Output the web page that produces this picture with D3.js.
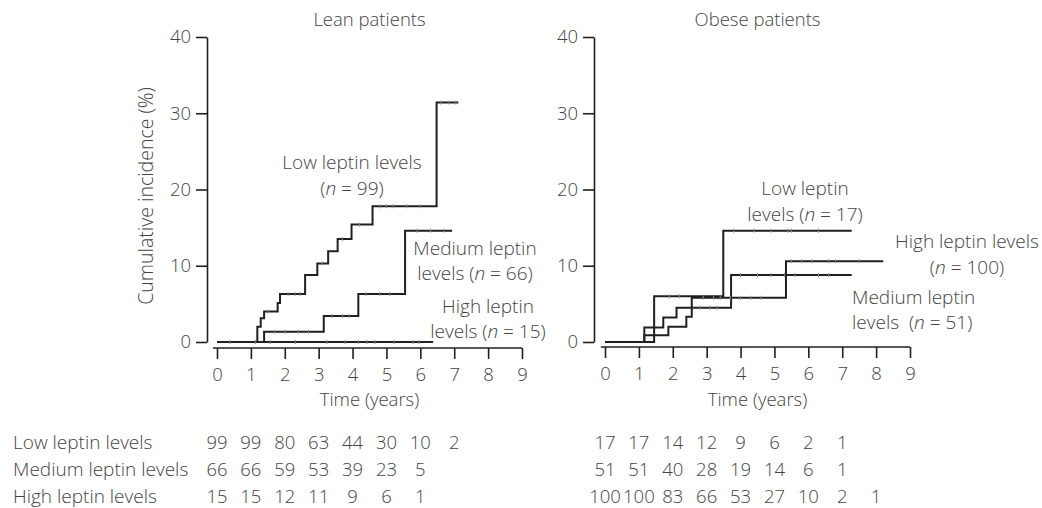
<!DOCTYPE html>
<html>
<head>
<meta charset="utf-8">
<script src="https://cdn.jsdelivr.net/npm/d3@7"></script>
<style>
  body { margin: 0; background: #fff; }
  text { font-family: "Open Sans", "Noto Sans", sans-serif; font-weight: 300; fill: #444; }
</style>
</head>
<body>
<script>
// step curves: [time (years), cumulative incidence (%)]
const leanLow = [[0, 0], [1.19, 2.0], [1.29, 3.1], [1.39, 4.0], [1.79, 5.1], [1.86, 6.3], [2.6, 8.8], [2.96, 10.3], [3.28, 11.9], [3.56, 13.5], [3.97, 15.4], [4.59, 17.8], [6.48, 31.4], [7.12, 31.4]]
const leanMedium = [[0, 0], [1.39, 1.35], [3.15, 3.4], [4.17, 6.3], [5.55, 14.6], [6.94, 14.6]]
const leanHigh = [[0, 0], [6.38, 0]]
const obeseLow = [[0, 0], [1.45, 6.0], [3.49, 14.6], [7.28, 14.6]]
const obeseMedium = [[0, 0], [1.16, 1.9], [1.72, 3.2], [2.11, 4.5], [3.72, 8.8], [7.28, 8.8]]
const obeseHigh = [[0, 0], [1.16, 0.9], [1.87, 2.0], [2.4, 3.3], [2.56, 5.8], [5.34, 10.6], [8.21, 10.6]]

// censoring times
const leanLowCens = [1.5, 2.1, 2.3, 2.45, 3.1, 3.7, 4.2, 4.8, 5.0, 5.2, 5.6, 6.0, 6.6, 6.85, 7.05]
const leanMediumCens = [1.7, 2.0, 2.4, 2.7, 3.4, 3.7, 3.9, 4.4, 4.8, 5.1, 5.9, 6.3, 6.7]
const leanHighCens = [0.39, 1.13, 1.57, 2.31, 3.24, 3.78, 4.17, 4.42, 4.66, 5.22, 5.79, 5.96]
const obeseLowCens = [1.9, 2.2, 3.8, 4.4, 4.9, 5.4, 5.5, 6.3]
const obeseMediumCens = [2.6, 2.8, 3.1, 3.3, 4.0, 4.5, 4.9, 5.3, 5.6, 6.3, 6.6]
const obeseHighCens = [2.9, 3.2, 3.4, 3.7, 4.0, 4.3, 4.6, 5.5, 5.8, 6.1, 6.6, 6.8, 7.5]

const yTicks = [0, 10, 20, 30, 40]
const xTicks = [0, 1, 2, 3, 4, 5, 6, 7, 8, 9]

// numbers at risk
const riskLabels = ['Low leptin levels', 'Medium leptin levels', 'High leptin levels']
const leanRisk = [[99, 99, 80, 63, 44, 30, 10, 2], [66, 66, 59, 53, 39, 23, 5], [15, 15, 12, 11, 9, 6, 1]]
const obeseRisk = [[17, 17, 14, 12, 9, 6, 2, 1], [51, 51, 40, 28, 19, 14, 6, 1], [100, 100, 83, 66, 53, 27, 10, 2, 1]]

const width = 1042
const height = 508
const fs = 18.5
const svg = d3.select('body').append('svg').attr('width', width).attr('height', height)

const y = d3.scaleLinear().domain([0, 40]).range([342, 37])

const panels = [
  {
    title: 'Lean patients', yAxisX: 207, xAxisY: 348, x0: 217,
    curves: [[leanLow, leanLowCens], [leanMedium, leanMediumCens], [leanHigh, leanHighCens]],
    risk: leanRisk,
    labels: [
      { x: 352, y: 169, anchor: 'middle', parts: [['Low leptin levels']] },
      { x: 352, y: 195, anchor: 'middle', parts: [['('], ['n', 1], [' = 99)']] },
      { x: 475, y: 255, anchor: 'middle', parts: [['Medium leptin']] },
      { x: 475, y: 280, anchor: 'middle', parts: [['levels ('], ['n', 1], [' = 66)']] },
      { x: 488, y: 313, anchor: 'middle', parts: [['High leptin']] },
      { x: 488, y: 338, anchor: 'middle', parts: [['levels ('], ['n', 1], [' = 15)']] }
    ]
  },
  {
    title: 'Obese patients', yAxisX: 594, xAxisY: 347, x0: 605,
    curves: [[obeseLow, obeseLowCens], [obeseMedium, obeseMediumCens], [obeseHigh, obeseHighCens]],
    risk: obeseRisk,
    labels: [
      { x: 805, y: 195, anchor: 'middle', parts: [['Low leptin']] },
      { x: 805, y: 221, anchor: 'middle', parts: [['levels ('], ['n', 1], [' = 17)']] },
      { x: 967, y: 248, anchor: 'middle', parts: [['High leptin levels']] },
      { x: 967, y: 274, anchor: 'middle', parts: [['('], ['n', 1], [' = 100)']] },
      { x: 852, y: 304, anchor: 'start', parts: [['Medium leptin']] },
      { x: 852, y: 329, anchor: 'start', parts: [['levels  ('], ['n', 1], [' = 51)']] }
    ]
  }
]

const stepValue = (steps, t) => {
  let v = 0
  steps.forEach((s) => { if (s[0] <= t) v = s[1] })
  return v
}

const line = d3.line().curve(d3.curveStepAfter)

panels.forEach((p) => {
  const x = d3.scaleLinear().domain([0, 9]).range([p.x0, p.x0 + 305])
  const g = svg.append('g')

  // title
  g.append('text')
    .attr('x', x(4.5))
    .attr('y', 26)
    .attr('text-anchor', 'middle')
    .attr('font-size', fs)
    .text(p.title)

  // y axis
  const yAxis = g.append('g')
    .attr('transform', `translate(${p.yAxisX},0)`)
    .call(d3.axisLeft(y).tickValues(yTicks).tickSize(11).tickSizeOuter(0).tickPadding(5))
  yAxis.selectAll('path, line').attr('stroke', '#231f20').attr('stroke-width', 1.6)
  yAxis.selectAll('text').attr('font-size', fs).attr('fill', '#444')
    .style('font-family', '"Open Sans", sans-serif').style('font-weight', 300)

  // x axis
  const xAxis = g.append('g')
    .attr('transform', `translate(0,${p.xAxisY})`)
    .call(d3.axisBottom(x).tickValues(xTicks).tickSize(11).tickSizeOuter(0).tickPadding(9))
  xAxis.select('.domain').remove()
  xAxis.append('line')
    .attr('x1', x(-0.12)).attr('x2', x(9))
    .attr('stroke', '#231f20').attr('stroke-width', 1.6)
  xAxis.selectAll('line').attr('stroke', '#231f20').attr('stroke-width', 1.6)
  xAxis.selectAll('text').attr('font-size', fs).attr('fill', '#444')
    .style('font-family', '"Open Sans", sans-serif').style('font-weight', 300)

  g.append('text')
    .attr('x', x(4.5))
    .attr('y', 406)
    .attr('text-anchor', 'middle')
    .attr('font-size', fs)
    .text('Time (years)')

  if (p.yAxisX < 300) {
    g.append('text')
      .attr('transform', `translate(153,196) rotate(-90)`)
      .attr('text-anchor', 'middle')
      .attr('font-size', 19.5)
      .text('Cumulative incidence (%)')
  }

  // curves
  p.curves.forEach(([steps, cens]) => {
    const pts = steps.map((d) => [x(d[0]), y(d[1])])
    g.append('path')
      .attr('d', line(pts))
      .attr('fill', 'none')
      .attr('stroke', '#231f20')
      .attr('stroke-width', 2)
    g.selectAll(null)
      .data(cens)
      .enter()
      .append('line')
      .attr('x1', (t) => x(t))
      .attr('x2', (t) => x(t))
      .attr('y1', (t) => y(stepValue(steps, t)) - 2)
      .attr('y2', (t) => y(stepValue(steps, t)) + 2)
      .attr('stroke', '#888')
      .attr('stroke-width', 1)
  })

  // curve labels
  p.labels.forEach((l) => {
    const t = g.append('text')
      .attr('x', l.x)
      .attr('y', l.y)
      .attr('text-anchor', l.anchor)
      .attr('font-size', 19)
      .attr('xml:space', 'preserve')
      .style('white-space', 'pre')
    l.parts.forEach((part) => {
      t.append('tspan').attr('font-style', part[1] ? 'italic' : 'normal').text(part[0])
    })
  })

  // numbers at risk
  p.risk.forEach((row, i) => {
    g.selectAll(null)
      .data(row)
      .enter()
      .append('text')
      .attr('x', (d, j) => x(j))
      .attr('y', 449 + i * 27)
      .attr('text-anchor', 'middle')
      .attr('font-size', fs)
      .text((d) => d)
  })
})

riskLabels.forEach((lab, i) => {
  svg.append('text')
    .attr('x', 13)
    .attr('y', 449 + i * 27)
    .attr('font-size', 19)
    .text(lab)
})
</script>
</body>
</html>
